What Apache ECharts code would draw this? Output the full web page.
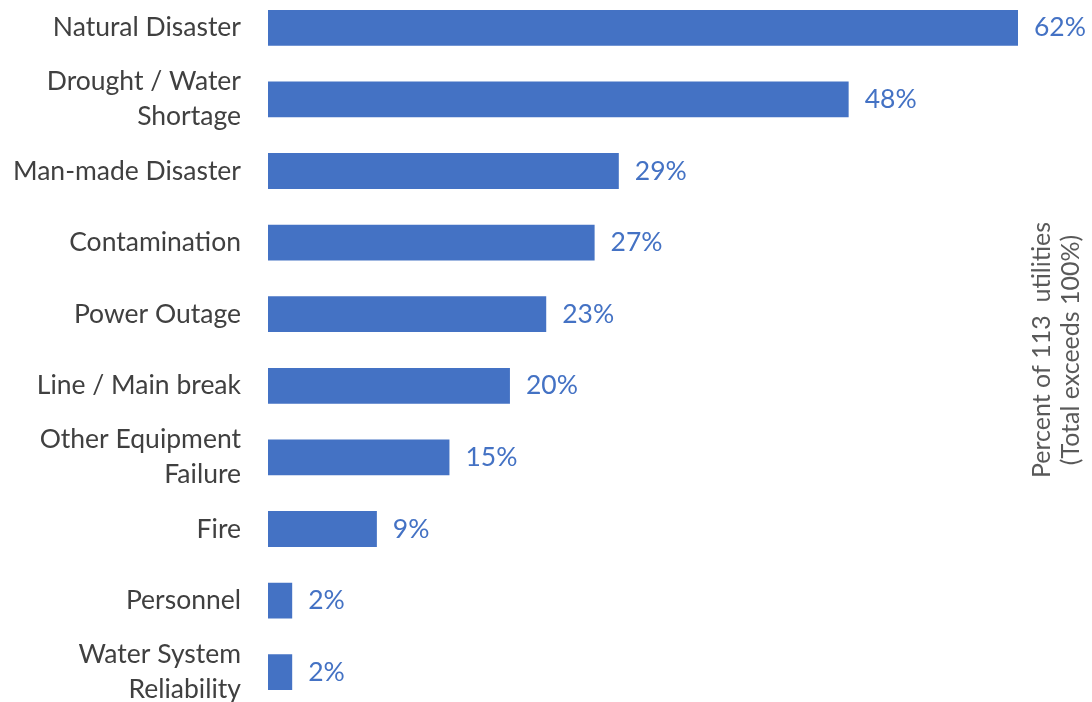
<!DOCTYPE html>
<html>
<head>
<meta charset="utf-8">
<script src="https://cdn.jsdelivr.net/npm/echarts@6/dist/echarts.min.js"></script>
<style>
  html, body { margin: 0; padding: 0; background: #fff; overflow: hidden; }
  #chart { position: absolute; left: 0; top: -8px; width: 1092px; height: 716px; }
</style>
</head>
<body>
<div id="chart"></div>
<script>
// Emergency causes reported by utilities, share of respondents
const categories = [
  'Natural Disaster',
  'Drought / Water\nShortage',
  'Man-made Disaster',
  'Contamination',
  'Power Outage',
  'Line / Main break',
  'Other Equipment\nFailure',
  'Fire',
  'Personnel',
  'Water System\nReliability'
];
const percents = [62, 48, 29, 27, 23, 20, 15, 9, 2, 2];
const sideNote = ['Percent of 113  utilities', '(Total exceeds 100%)'];

const FONT = 'Lato, "Open Sans", sans-serif';
const chart = echarts.init(document.getElementById('chart'), null, { renderer: 'canvas' });

chart.setOption({
  animation: false,
  backgroundColor: '#ffffff',
  grid: { left: 268, right: 74, top: 0, bottom: 0, containLabel: false },
  xAxis: {
    type: 'value',
    min: 0,
    max: 62,
    show: false
  },
  yAxis: {
    type: 'category',
    inverse: true,
    data: categories,
    axisLine: { show: false },
    axisTick: { show: false },
    axisLabel: {
      color: '#404040',
      fontFamily: FONT,
      fontSize: 26.5,
      lineHeight: 35,
      margin: 27,
      align: 'right'
    }
  },
  series: [{
    type: 'bar',
    data: percents,
    barWidth: '50%',
    itemStyle: { color: '#4472C4' },
    label: {
      show: true,
      position: 'right',
      distance: 16,
      color: '#4472C4',
      fontFamily: FONT,
      fontSize: 26.5,
      formatter: p => p.value + '%'
    }
  }],
  graphic: sideNote.map((t, i) => ({
    type: 'text',
    x: 1042 + i * 29,
    y: 358,
    rotation: Math.PI / 2,
    style: {
      text: t,
      fill: '#595959',
      font: '25px ' + FONT,
      align: 'center',
      verticalAlign: 'middle'
    }
  }))
});
</script>
</body>
</html>
